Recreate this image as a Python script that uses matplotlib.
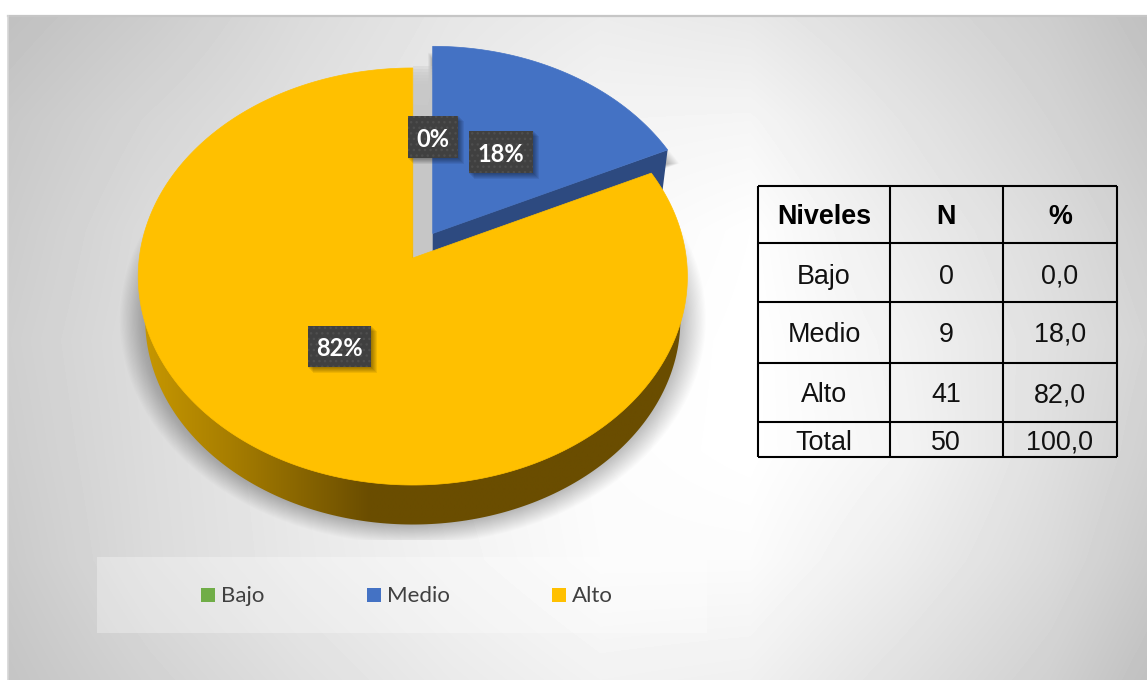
import numpy as np
import matplotlib
matplotlib.use('Agg')
import matplotlib.pyplot as plt
from matplotlib.patches import Polygon, Rectangle

# survey results
niveles = ['Bajo', 'Medio', 'Alto']
n_vals = [0, 9, 41]
pct_vals = [0.0, 18.0, 82.0]
n_total = 50
pct_total = 100.0
colores = ['#70AD47', '#4472C4', '#FFC000']

W, H = 1147, 680

# tilted pie: top face is a circle seen through a homography
PERSP = 0.0887
RX, RY = 273.5, 184.0
APEX = (412.8, 258.0)


def rim(t, x0=APEX[0], y0=APEX[1], s=1.0):
    # t in radians, clockwise from the top of the pie
    w = 1 + PERSP * np.cos(t)
    x = RX * np.sin(t) / w
    y = (APEX[1] - RY * np.cos(t)) / w - APEX[1]
    return x0 + s * x, y0 + s * y


def wedge(t0, t1, **kw):
    t = np.linspace(t0, t1, 300)
    x, y = rim(t, **kw)
    ax0, ay0 = kw.get('x0', APEX[0]), kw.get('y0', APEX[1])
    return np.column_stack([np.r_[ax0, x], np.r_[ay0, y]])


def lower(pts):
    # same outline on the underside of the disc
    out = pts.copy()
    out[:, 0] = APEX[0] + (pts[:, 0] - APEX[0]) * 268 / 275
    out[:, 1] = 319 + (pts[:, 1] - 276) * 205 / 208.5
    return out


def grow(pts, cx, cy, k):
    out = pts.copy()
    out[:, 0] = cx + (pts[:, 0] - cx) * (1 + k)
    out[:, 1] = cy + (pts[:, 1] - cy) * (1 + k)
    return out


fig = plt.figure(figsize=(W / 100, H / 100), dpi=100, facecolor='white')
ax = fig.add_axes([0, 0, 1, 1])
ax.axis('off')

# panel background, grey levels on a coarse grid
bg_x = [8, 150, 300, 450, 600, 750, 900, 1050, 1147]
bg_y = [16, 120, 230, 340, 450, 560, 680]
bg_v = np.array([
    [0xc0, 0xcc, 0xdb, 0xe6, 0xec, 0xe8, 0xda, 0xcd, 0xc0],
    [0xc8, 0xd5, 0xe0, 0xea, 0xf4, 0xf5, 0xe4, 0xd4, 0xc8],
    [0xcc, 0xdb, 0xe4, 0xee, 0xf8, 0xfe, 0xec, 0xdc, 0xcf],
    [0xcf, 0xdd, 0xe8, 0xf2, 0xfb, 0xff, 0xf2, 0xe0, 0xd4],
    [0xcd, 0xdc, 0xe9, 0xf4, 0xfc, 0xff, 0xf4, 0xdf, 0xd0],
    [0xca, 0xdb, 0xe8, 0xf2, 0xfb, 0xfb, 0xec, 0xda, 0xca],
    [0xc4, 0xd2, 0xdf, 0xea, 0xf2, 0xf0, 0xe0, 0xd0, 0xc0],
], dtype=float)
px = np.arange(8, 1147)
py = np.arange(16, 680)
by_col = np.array([np.interp(px, bg_x, row) for row in bg_v])
shade = np.array([np.interp(py, bg_y, col) for col in by_col.T]).T
ax.imshow(shade, cmap='gray', vmin=0, vmax=255, extent=(8, 1147, 680, 16),
          aspect='auto', zorder=0, interpolation='bilinear')
ax.plot([8, 1147], [16, 16], color='#c6c6c6', lw=1.6, zorder=1)
ax.plot([8, 8], [16, 680], color='#d6d6d6', lw=1.2, zorder=1)

# slice angles come from the percentages
edges = np.cumsum([0] + pct_vals) / pct_total * 2 * np.pi
ang = {nv: (edges[i], edges[i + 1]) for i, nv in enumerate(niveles)}

alto = wedge(*ang['Alto'])
alto_low = lower(alto)
blue_kw = dict(x0=432.7, y0=233.5, s=0.985)
medio = wedge(*ang['Medio'], **blue_kw)

# soft shadow falling below the disc, cut off by the plot area
clip_sh = Rectangle((116, 16), 640, 524, transform=ax.transData)
disc_low = lower(wedge(0, 2 * np.pi))
medio_sh = medio + [0, 14]
for k in np.linspace(0.0, 0.095, 22):
    p = Polygon(grow(disc_low, APEX[0], 319, k), fc='black', ec='none', alpha=0.0105, zorder=2)
    ax.add_patch(p)
    p.set_clip_path(clip_sh)
    p = Polygon(grow(medio_sh, 500, 170, k * 0.75), fc='black', ec='none', alpha=0.011, zorder=2)
    ax.add_patch(p)
    p.set_clip_path(clip_sh)

# gap left open by the pulled out slice, fading out towards the rim
for i in range(12):
    ax.add_patch(Rectangle((APEX[0], 66 + i * 3), 22, 200 - i * 3, fc='#c8c8c8', ec='none',
                           alpha=0.35, zorder=2.5))

# side wall of the pulled out slice
tip = medio[-1]
apex_b = medio[0]
pared = np.array([apex_b, tip, tip + [-5, 40], apex_b + [0, 40]])
ax.add_patch(Polygon(pared, fc='#2D4A80', ec='none', zorder=3))

# side wall of the big slice, lit from the left
grad = np.interp(np.linspace(140, 690, 400), [140, 230, 370, 690], [0, 0.35, 1, 1])[None, :]
c0 = np.array([200, 152, 0]) / 255
c1 = np.array([106, 77, 0]) / 255
rgb = c0[None, None, :] + grad[:, :, None] * (c1 - c0)[None, None, :]
im = ax.imshow(rgb, extent=(140, 690, 540, 250), aspect='auto', zorder=4)
clip_p = Polygon(alto_low, transform=ax.transData)
im.set_clip_path(clip_p)

# top faces
for nv, col in zip(niveles, colores):
    t0, t1 = ang[nv]
    if t1 <= t0:
        continue
    pts = medio if nv == 'Medio' else alto
    ax.add_patch(Polygon(pts, fc=col, ec=col, lw=0.5, zorder=5 if nv == 'Alto' else 4))

# data labels
cajas = {'Bajo': (408, 116, 50, 42), 'Medio': (469, 131, 64, 42), 'Alto': (308, 326, 63, 41)}
for nv, pc in zip(niveles, pct_vals):
    x, y, w, h = cajas[nv]
    for i in range(6):
        ax.add_patch(Rectangle((x + i, y + i), w + 1, h + 1, fc='black', ec='none',
                               alpha=0.07, zorder=6))
    ax.add_patch(Rectangle((x, y), w, h, fc='#404040', ec='none', zorder=7))
    ax.add_patch(Rectangle((x, y), w, h, fc='none', ec='#4e4e4e', hatch='...', lw=0, zorder=7))
    ax.text(x + w / 2, y + h / 2 + 2.5, '%d%%' % pc, color='white', fontsize=17, weight='bold',
            family='Lato', ha='center', va='center', zorder=8)

# legend strip
ax.add_patch(Rectangle((97, 557), 610, 76, fc='white', ec='none', alpha=0.3, zorder=2))
ley_x = [201, 367, 552]
for nv, col, x in zip(niveles, colores, ley_x):
    ax.add_patch(Rectangle((x, 588), 14, 14, fc=col, ec='none', zorder=3))
    ax.text(x + 20, 596.5, nv, color='#404040', fontsize=16, family='Lato',
            ha='left', va='center', zorder=3)

# table
col_x = [757.5, 890, 1002.7, 1117]
row_y = [185.7, 243, 302, 363, 421.7, 457.3]
ax.hlines(row_y, col_x[0], col_x[-1], color='black', lw=1.5, zorder=3)
ax.vlines(col_x, row_y[0], row_y[-1], color='black', lw=1.5, zorder=3)
filas = [[nv, str(a), ('%.1f' % b).replace('.', ',')] for nv, a, b in zip(niveles, n_vals, pct_vals)]
filas.append(['Total', str(n_total), ('%.1f' % pct_total).replace('.', ',')])
cx = [824, 946, 1060]
cy = [276.5, 334.5, 395.5, 442.5]
for x, head in zip(cx, ['Niveles', 'N', '%']):
    ax.text(x, 217.5, head, fontsize=19.4, weight='bold', family='Liberation Sans',
            ha='center', va='center', color='black', zorder=3)
for y, fila in zip(cy, filas):
    for x, val in zip(cx, fila):
        ax.text(x, y, val, fontsize=19.4, family='Liberation Sans',
                ha='center', va='center', color='#111111', zorder=3)

ax.set_xlim(0, W)
ax.set_ylim(H, 0)
fig.savefig('out.png', dpi=100)
